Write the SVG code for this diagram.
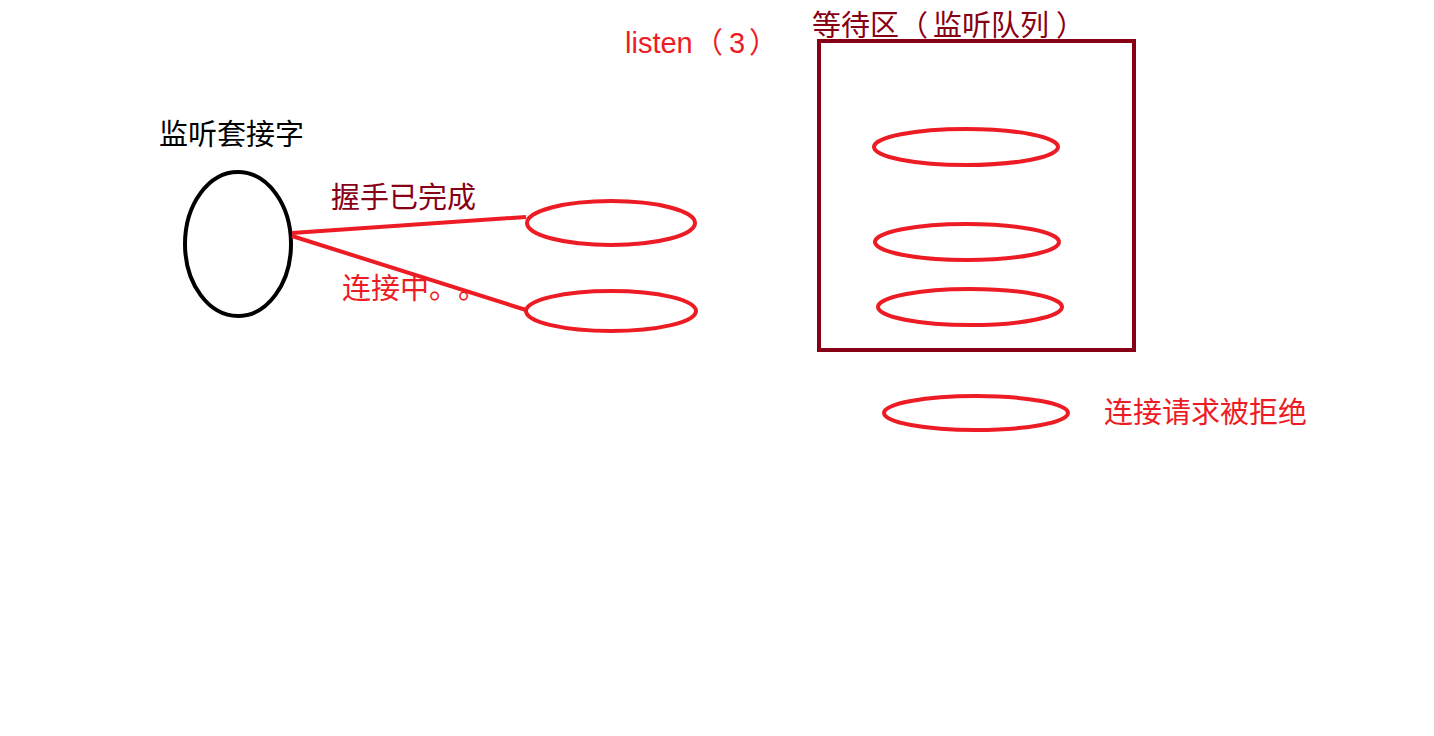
<svg xmlns="http://www.w3.org/2000/svg" width="1434" height="736" viewBox="0 0 1434 736">
<style>
text{font-family:"Liberation Sans","Noto Sans CJK SC",sans-serif;font-size:29px;text-spacing-trim:space-all}
.red{fill:#ED1C24}
.dark{fill:#880015}
.blk{fill:#000}
.conn{fill:none;stroke:#ED1C24;stroke-width:4}
.sock{fill:none;stroke:#ED1C24;stroke-width:4}
</style>
<rect width="1434" height="736" fill="#fff"/>
<g id="listen-socket">
<ellipse cx="238" cy="244" rx="53" ry="72" fill="none" stroke="#000" stroke-width="4"/>
<text class="blk" x="159" y="145">监听套接字</text>
</g>
<g id="connectors">
<line class="conn" x1="292" y1="233" x2="526" y2="217"/>
<line class="conn" x1="292" y1="236" x2="526" y2="310"/>
</g>
<g id="label-done"><text class="dark" x="331" y="208">握手已完成</text></g>
<g id="label-connecting"><text class="red" x="342 371 400 429 458" y="299">连接中。。</text></g>
<g id="conn-done"><ellipse class="sock" cx="611" cy="223" rx="84" ry="22"/></g>
<g id="conn-pending"><ellipse class="sock" cx="611" cy="311" rx="85" ry="20"/></g>
<g id="listen-label"><text class="red" y="53"><tspan x="625">listen</tspan><tspan x="694">（</tspan><tspan x="729">3</tspan><tspan x="749">）</tspan></text></g>
<g id="queue">
<rect x="819" y="41" width="315" height="309" fill="none" stroke="#880015" stroke-width="4"/>
<text class="dark" x="812 841 870 899 933 962 991 1020 1056" y="36">等待区（监听队列）</text>
</g>
<g id="queue-1"><ellipse class="sock" cx="966" cy="147" rx="92" ry="18"/></g>
<g id="queue-2"><ellipse class="sock" cx="967" cy="242" rx="92" ry="18"/></g>
<g id="queue-3"><ellipse class="sock" cx="970" cy="307" rx="92" ry="18"/></g>
<g id="rejected">
<ellipse class="sock" cx="976" cy="413" rx="92" ry="17"/>
<text class="red" x="1104" y="423">连接请求被拒绝</text>
</g>
</svg>
